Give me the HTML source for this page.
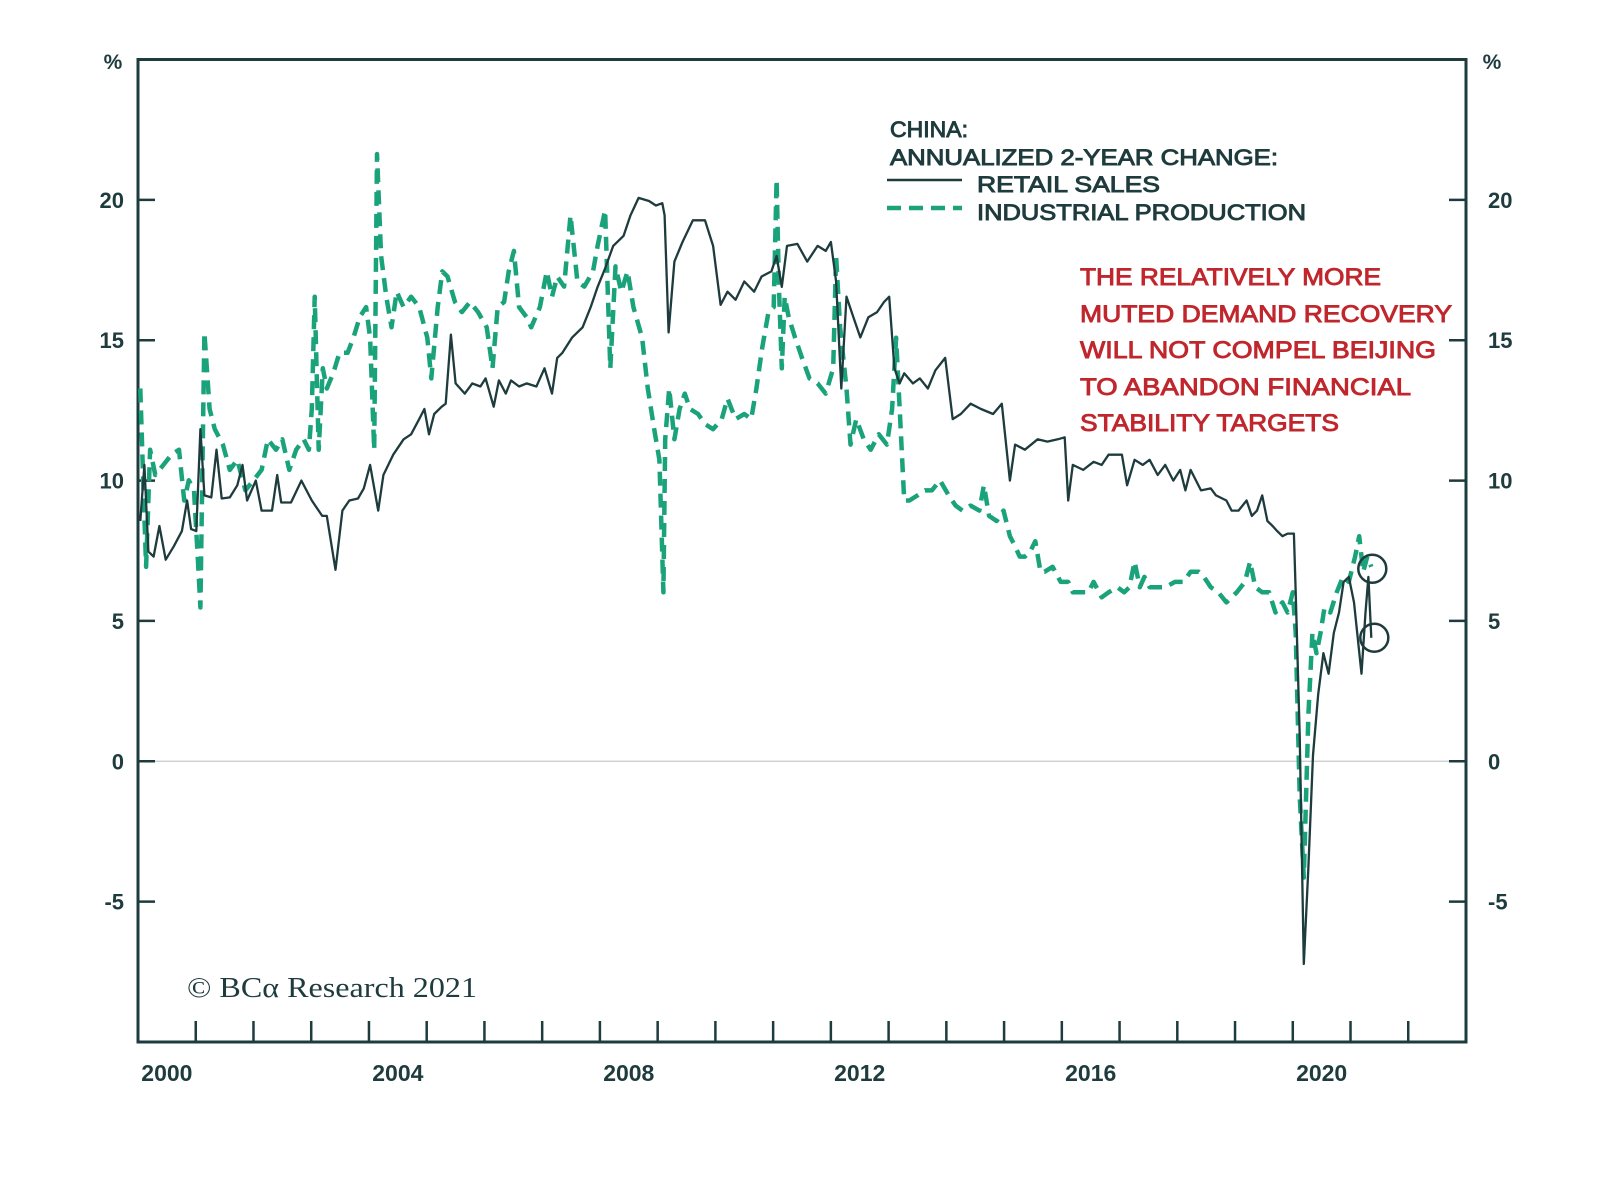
<!DOCTYPE html>
<html><head><meta charset="utf-8"><style>
html,body{margin:0;padding:0;background:#fff;}
svg{display:block;}
text{font-family:"Liberation Sans",Arial,sans-serif;}
</style></head><body>
<svg id="chart" width="1600" height="1186" viewBox="0 0 1600 1186" xmlns="http://www.w3.org/2000/svg">
<rect width="1600" height="1186" fill="#fff"/>
<g id="axes"></g>
<g id="series"></g>
<g fill="#1e3b3d" stroke="#1e3b3d" stroke-width="0.9" font-size="22">
  <text x="890" y="137" textLength="78" lengthAdjust="spacingAndGlyphs">CHINA:</text>
  <text x="890" y="165" textLength="388" lengthAdjust="spacingAndGlyphs">ANNUALIZED 2-YEAR CHANGE:</text>
  <line x1="887" y1="180" x2="962" y2="180" stroke="#1e3b3d" stroke-width="2.5"/>
  <text x="977" y="192" textLength="183" lengthAdjust="spacingAndGlyphs">RETAIL SALES</text>
  <line x1="887" y1="208" x2="962" y2="208" stroke="#1aa37a" stroke-width="4.5" stroke-dasharray="14,8"/>
  <text x="977" y="220" textLength="329" lengthAdjust="spacingAndGlyphs">INDUSTRIAL PRODUCTION</text>
</g>
<g fill="#c0272d" stroke="#c0272d" stroke-width="0.9" font-size="24">
  <text x="1080" y="285" textLength="301" lengthAdjust="spacingAndGlyphs">THE RELATIVELY MORE</text>
  <text x="1080" y="322" textLength="372" lengthAdjust="spacingAndGlyphs">MUTED DEMAND RECOVERY</text>
  <text x="1080" y="358" textLength="356" lengthAdjust="spacingAndGlyphs">WILL NOT COMPEL BEIJING</text>
  <text x="1080" y="395" textLength="331" lengthAdjust="spacingAndGlyphs">TO ABANDON FINANCIAL</text>
  <text x="1080" y="431" textLength="259" lengthAdjust="spacingAndGlyphs">STABILITY TARGETS</text>
</g>
<text x="187" y="997" style="font-family:'Liberation Serif',serif" font-size="29" fill="#1e3b3d" textLength="290" lengthAdjust="spacingAndGlyphs">© BCα Research 2021</text>
</svg>
<script>
const retailDates = [2000.04,2000.11,2000.18,2000.27,2000.37,2000.48,2000.62,2000.76,2000.85,2000.92,2001.01,2001.08,2001.15,2001.27,2001.36,2001.45,2001.59,2001.72,2001.81,2001.89,2002.04,2002.14,2002.32,2002.41,2002.48,2002.65,2002.83,2003.01,2003.19,2003.27,2003.42,2003.54,2003.66,2003.81,2003.91,2004.02,2004.16,2004.25,2004.42,2004.6,2004.73,2004.87,2004.96,2005.04,2005.13,2005.26,2005.33,2005.42,2005.5,2005.66,2005.79,2005.93,2006.02,2006.16,2006.25,2006.37,2006.46,2006.6,2006.73,2006.9,2007.04,2007.17,2007.26,2007.35,2007.52,2007.7,2007.84,2007.96,2008.09,2008.23,2008.41,2008.53,2008.67,2008.85,2008.97,2009.08,2009.12,2009.19,2009.29,2009.43,2009.61,2009.82,2009.96,2010.09,2010.21,2010.35,2010.5,2010.67,2010.8,2010.97,2011.06,2011.15,2011.24,2011.42,2011.59,2011.77,2011.91,2012.0,2012.09,2012.18,2012.27,2012.39,2012.51,2012.65,2012.8,2012.92,2013.01,2013.1,2013.19,2013.27,2013.42,2013.54,2013.68,2013.81,2013.98,2014.11,2014.25,2014.42,2014.6,2014.81,2014.96,2015.1,2015.19,2015.36,2015.58,2015.75,2015.93,2016.05,2016.11,2016.19,2016.37,2016.55,2016.69,2016.81,2016.96,2017.04,2017.13,2017.26,2017.4,2017.52,2017.66,2017.79,2017.93,2018.05,2018.14,2018.23,2018.41,2018.58,2018.67,2018.85,2018.94,2019.06,2019.2,2019.29,2019.38,2019.47,2019.56,2019.65,2019.73,2019.82,2019.91,2020.02,2020.05,2020.12,2020.19,2020.27,2020.35,2020.44,2020.53,2020.62,2020.71,2020.8,2020.88,2020.97,2021.06,2021.19,2021.26,2021.31,2021.36];
const retailValues = [8.56,10.56,7.47,7.29,8.38,7.18,7.66,8.2,9.29,8.27,8.2,11.83,9.47,9.4,11.1,9.36,9.4,9.83,10.56,9.29,10.0,8.93,8.93,10.2,9.22,9.22,10.0,9.29,8.74,8.74,6.82,8.93,9.29,9.36,9.72,10.56,8.93,10.2,10.92,11.47,11.65,12.19,12.55,11.65,12.37,12.63,12.74,15.2,13.46,13.1,13.46,13.35,13.64,12.63,13.57,13.1,13.57,13.35,13.46,13.35,14.0,13.1,14.37,14.55,15.1,15.46,16.18,16.9,17.56,18.36,18.72,19.45,20.07,19.96,19.8,19.88,19.45,15.28,17.8,18.5,19.27,19.27,18.36,16.26,16.73,16.44,17.09,16.73,17.27,17.45,18.0,16.9,18.36,18.43,17.8,18.36,18.18,18.5,17.09,13.28,16.55,15.82,15.1,15.82,16.0,16.36,16.55,14.0,13.46,13.82,13.46,13.64,13.28,13.93,14.37,12.19,12.37,12.74,12.55,12.37,12.74,10.0,11.28,11.1,11.47,11.39,11.47,11.54,9.29,10.56,10.38,10.67,10.56,10.92,10.92,10.92,9.83,10.74,10.56,10.74,10.2,10.56,10.0,10.38,9.65,10.38,9.65,9.72,9.47,9.29,8.93,8.93,9.29,8.74,8.93,9.47,8.56,8.38,8.2,8.02,8.11,8.11,6.02,0.94,-7.22,-3.77,0.22,2.39,3.85,3.12,4.57,5.3,6.39,6.57,5.66,3.12,5.3,6.57,4.4];
const ipDates = [2000.04,2000.09,2000.14,2000.21,2000.3,2000.44,2000.58,2000.71,2000.8,2000.88,2000.97,2001.04,2001.08,2001.15,2001.24,2001.33,2001.47,2001.59,2001.72,2001.86,2002.0,2002.14,2002.25,2002.39,2002.5,2002.62,2002.74,2002.87,2002.96,2003.01,2003.06,2003.13,2003.2,2003.27,2003.38,2003.49,2003.63,2003.73,2003.84,2003.95,2004.02,2004.09,2004.14,2004.21,2004.3,2004.39,2004.48,2004.6,2004.73,2004.87,2005.01,2005.08,2005.19,2005.27,2005.36,2005.49,2005.61,2005.75,2005.89,2006.04,2006.14,2006.23,2006.34,2006.42,2006.51,2006.6,2006.73,2006.81,2006.96,2007.08,2007.17,2007.26,2007.38,2007.49,2007.61,2007.73,2007.88,2007.96,2008.09,2008.18,2008.27,2008.37,2008.48,2008.58,2008.73,2008.83,2008.94,2009.03,2009.1,2009.13,2009.2,2009.29,2009.38,2009.47,2009.56,2009.7,2009.82,2009.96,2010.11,2010.21,2010.35,2010.5,2010.62,2010.71,2010.81,2010.92,2011.01,2011.06,2011.1,2011.15,2011.2,2011.27,2011.38,2011.5,2011.63,2011.77,2011.91,2012.04,2012.09,2012.16,2012.27,2012.34,2012.44,2012.57,2012.69,2012.83,2012.97,2013.06,2013.13,2013.2,2013.27,2013.36,2013.5,2013.63,2013.75,2013.89,2014.04,2014.16,2014.28,2014.42,2014.57,2014.65,2014.74,2014.87,2014.99,2015.1,2015.19,2015.27,2015.36,2015.45,2015.54,2015.63,2015.7,2015.84,2015.98,2016.11,2016.19,2016.34,2016.46,2016.55,2016.69,2016.81,2016.96,2017.08,2017.17,2017.26,2017.35,2017.43,2017.52,2017.61,2017.79,2017.96,2018.11,2018.23,2018.37,2018.46,2018.58,2018.71,2018.85,2019.03,2019.17,2019.26,2019.35,2019.47,2019.59,2019.7,2019.82,2019.91,2020.0,2020.05,2020.12,2020.19,2020.27,2020.34,2020.41,2020.48,2020.55,2020.65,2020.76,2020.87,2020.97,2021.08,2021.15,2021.22,2021.29,2021.36];
const ipValues = [13.28,10.01,6.93,11.1,10.2,10.56,10.92,11.1,9.29,10.01,9.65,7.11,5.48,15.28,12.55,11.83,11.28,10.38,10.74,9.65,10.01,10.38,11.47,11.1,11.47,10.38,11.1,11.47,11.1,12.55,16.55,11.1,14.0,13.28,13.82,14.55,14.55,15.09,15.82,16.18,15.09,11.1,21.63,18.0,16.55,15.46,16.73,16.18,16.55,16.18,15.09,13.64,16.18,17.45,17.27,16.36,16.0,16.36,16.0,15.46,14.0,16.18,16.36,17.45,18.18,16.18,15.82,15.46,16.18,17.45,16.55,17.27,16.91,19.45,17.09,16.91,17.45,18.36,19.63,14.0,17.63,16.73,17.45,16.18,15.09,13.28,11.83,10.74,6.02,11.47,13.28,11.47,12.55,13.1,12.55,12.37,12.01,11.83,12.19,12.92,12.19,12.37,12.19,13.28,14.73,16.0,16.18,20.72,16.91,14.0,16.55,15.82,15.09,14.37,13.64,13.46,13.1,14.0,18.0,15.46,13.28,11.28,12.19,11.47,11.1,11.65,11.28,12.55,15.09,12.19,9.29,9.29,9.47,9.65,9.65,10.01,9.47,9.11,8.93,9.11,8.93,9.83,8.74,8.56,8.93,8.02,7.66,7.29,7.29,7.47,7.84,6.75,6.75,6.93,6.39,6.39,6.02,6.02,6.02,6.39,5.84,6.02,6.2,6.02,6.2,7.11,6.2,6.57,6.2,6.2,6.2,6.39,6.39,6.75,6.75,6.57,6.2,6.02,5.66,6.02,6.39,7.11,6.2,6.02,6.02,5.3,5.66,5.3,6.02,4.57,-1.23,-4.14,1.67,4.57,3.85,4.57,5.48,5.3,6.02,6.57,6.39,7.29,8.02,6.75,7.29,6.93];
const yTicks = [-5,0,5,10,15,20];
const yTickLabels = ["-5","0","5","10","15","20"];
const xLabelYears = [2000,2004,2008,2012,2016,2020];

const NS = "http://www.w3.org/2000/svg";
const L = 138, R = 1466, T = 59.5, B = 1042;
const yMin = -10, yMax = 25, xMin = 2000, xMax = 2023;
function xs(t){ return L + (t - xMin) / (xMax - xMin) * (R - L); }
function ys(v){ return T + (yMax - v) / (yMax - yMin) * (B - T); }
function mk(tag, attrs, parent){ const e = document.createElementNS(NS, tag); for (const k in attrs) e.setAttribute(k, attrs[k]); parent.appendChild(e); return e; }
const axes = document.getElementById('axes');
const series = document.getElementById('series');
const ink = "#1e3b3d";

const zl = mk('line', {x1:L, x2:R, y1:ys(0), y2:ys(0), stroke:'#c4c9c9', 'stroke-width':1.3}, axes);



yTicks.forEach((v, i) => {
  const y = ys(v);
  const tl = mk('line', {x1:L, x2:L+17, y1:y, y2:y, stroke:ink, 'stroke-width':2.5}, axes);
  
  
  const tr = mk('line', {x1:R-17, x2:R, y1:y, y2:y, stroke:ink, 'stroke-width':2.5}, axes);
  
  
  const a = mk('text', {x:124, y:y+8, 'text-anchor':'end', 'font-size':22, 'font-weight':'bold', fill:ink}, axes);
  a.textContent = yTickLabels[i];
  
  
  const b = mk('text', {x:1488, y:y+8, 'font-size':22, 'font-weight':'bold', fill:ink}, axes);
  b.textContent = yTickLabels[i];
  
  
});
const p1 = mk('text', {x:113, y:69, 'text-anchor':'middle', 'font-size':21, 'font-weight':'bold', fill:ink}, axes);
p1.textContent = '%';


const p2 = mk('text', {x:1492, y:69, 'text-anchor':'middle', 'font-size':21, 'font-weight':'bold', fill:ink}, axes);
p2.textContent = '%';



for (let yr = xMin + 1; yr < xMax; yr++) {
  const x = xs(yr);
  const t = mk('line', {x1:x, x2:x, y1:B, y2:B-21, stroke:ink, 'stroke-width':2.5}, axes);
  
  
}
xLabelYears.forEach(yr => {
  const t = mk('text', {x:xs(yr + 0.5), y:1081, 'text-anchor':'middle', 'font-size':23, 'font-weight':'bold', fill:ink}, axes);
  t.textContent = String(yr);
  
  
});

const fr = mk('rect', {x:L, y:T, width:R-L, height:B-T, fill:'none', stroke:ink, 'stroke-width':3}, axes);



function pathFrom(d, v){ return d.map((t,i) => (i ? 'L' : 'M') + xs(t).toFixed(1) + ',' + ys(v[i]).toFixed(1)).join(' '); }

const ip = mk('path', {d:pathFrom(ipDates, ipValues), fill:'none', stroke:'#1aa37a', 'stroke-width':4.5, 'stroke-dasharray':'14,8', 'stroke-linejoin':'round'}, series);


const rs = mk('path', {d:pathFrom(retailDates, retailValues), fill:'none', stroke:ink, 'stroke-width':2.3, 'stroke-linejoin':'round'}, series);



const li = ipDates.length - 1, lr = retailDates.length - 1;
const c1 = mk('circle', {cx:xs(ipDates[li]) + 1, cy:ys(ipValues[li]) + 2, r:14, fill:'none', stroke:ink, 'stroke-width':2.5}, series);


const c2 = mk('circle', {cx:xs(retailDates[lr]) + 3, cy:ys(retailValues[lr]), r:14, fill:'none', stroke:ink, 'stroke-width':2.5}, series);


</script>
</body></html>
